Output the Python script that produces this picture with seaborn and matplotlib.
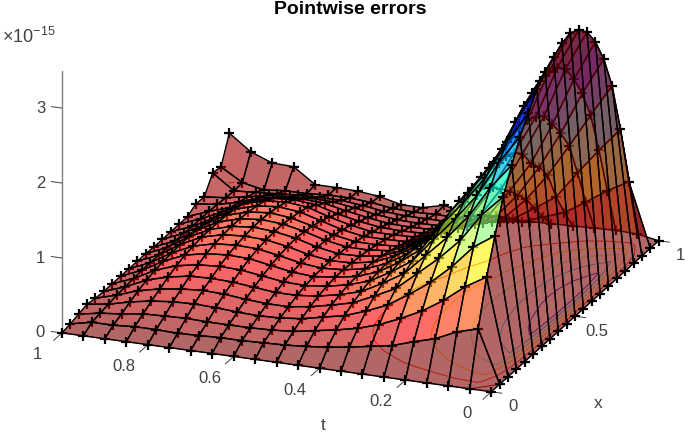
import numpy as np
import seaborn as sns
import matplotlib
matplotlib.use("Agg")
import matplotlib.pyplot as plt
from matplotlib.colors import LinearSegmentedColormap
from mpl_toolkits.mplot3d import proj3d

t_grid = [i / 20 for i in range(21)]
x_grid = [i / 20 for i in range(21)]

# pointwise error (units of 1e-15), one list per t value, x = 0 ... 1
z_t000 = [0] * 21
z_t005 = [0, .70, 1.29, 1.74, 2.16, 2.48, 2.76, 2.97, 3.19, 3.32, 3.42, 3.50, 3.54, 3.48, 3.35, 3.12, 2.79, 2.33, 1.65, .85, .05]
z_t010 = [0, .62, 1.12, 1.55, 1.88, 2.14, 2.37, 2.55, 2.72, 2.83, 2.90, 2.96, 2.98, 2.93, 2.82, 2.58, 2.29, 1.90, 1.33, .69, .06]
z_t015 = [0, .49, .90, 1.25, 1.50, 1.72, 1.90, 2.03, 2.14, 2.22, 2.27, 2.30, 2.30, 2.24, 2.15, 1.94, 1.72, 1.45, .99, .50, .05]
z_t020 = [0, .41, .72, 1.00, 1.22, 1.40, 1.55, 1.67, 1.75, 1.80, 1.82, 1.82, 1.78, 1.72, 1.61, 1.38, 1.23, 1.02, .63, .32, .04]
z_t025 = [0, .32, .58, .80, .98, 1.12, 1.24, 1.34, 1.41, 1.44, 1.45, 1.42, 1.35, 1.22, 1.10, .97, .82, .66, .44, .22, .03]
z_t030 = [0, .27, .46, .62, .74, .84, .91, .96, 1.00, 1.01, 1.00, .96, .90, .80, .70, .60, .50, .38, .26, .12, .02]
z_t035 = [0, .22, .37, .50, .60, .67, .72, .75, .76, .76, .74, .70, .64, .57, .50, .43, .35, .26, .18, .08, .02]
z_t040 = [0, .18, .31, .40, .47, .52, .56, .58, .59, .59, .57, .54, .50, .45, .39, .33, .27, .20, .14, .07, .02]
z_t045 = [0, .15, .26, .34, .40, .44, .47, .48, .48, .47, .45, .42, .38, .34, .30, .25, .20, .15, .10, .05, .01]
z_t050 = [0, .13, .21, .28, .34, .38, .41, .43, .43, .42, .41, .39, .36, .33, .29, .24, .19, .14, .10, .06, .08]
z_t055 = [0, .12, .19, .25, .30, .35, .38, .40, .41, .41, .40, .39, .36, .33, .29, .25, .20, .15, .10, .05, .01]
z_t060 = [0, .11, .18, .24, .30, .35, .39, .42, .44, .45, .45, .44, .41, .38, .34, .29, .24, .18, .12, .06, .01]
z_t065 = [0, .11, .18, .25, .32, .38, .43, .47, .50, .52, .53, .52, .49, .46, .41, .35, .29, .23, .16, .10, .08]
z_t070 = [0, .10, .18, .27, .35, .41, .47, .52, .55, .57, .58, .58, .56, .54, .50, .43, .35, .27, .19, .12, .11]
z_t075 = [0, .09, .19, .28, .36, .42, .48, .53, .56, .58, .60, .60, .59, .57, .53, .46, .37, .28, .19, .12, .12]
z_t080 = [0, .10, .18, .27, .34, .41, .46, .51, .54, .56, .57, .57, .56, .54, .51, .44, .35, .26, .18, .10, .12]
z_t085 = [0, .10, .17, .24, .30, .36, .41, .45, .47, .49, .49, .49, .48, .46, .43, .37, .31, .24, .16, .10, .32]
z_t090 = [0, .08, .13, .19, .24, .28, .31, .33, .34, .35, .35, .34, .32, .30, .28, .24, .21, .18, .14, .07, .33]
z_t095 = [0, .08, .10, .12, .14, .15, .16, .17, .17, .17, .17, .16, .16, .15, .15, .15, .14, .13, .12, .13, .44]
z_t100 = [0, .02, .05, .08, .06, .05, .05, .05, .05, .05, .05, .04, .04, .04, .04, .04, .11, .10, .32, .30, .65]

t_ticks = [0, 0.2, 0.4, 0.6, 0.8, 1]
t_labels = ['0', '0.2', '0.4', '0.6', '0.8', '1']
x_ticks = [0, 0.5, 1]
x_labels = ['0', '0.5', '1']
z_ticks = [0, 1, 2, 3]

sns.set_style("white")
plt.rcParams['font.family'] = ['Liberation Sans', 'DejaVu Sans']
plt.rcParams['mathtext.default'] = 'regular'
GRAY = '#404040'

# reversed MATLAB jet, it reaches pure red sooner than matplotlib's own
jet_rev = LinearSegmentedColormap.from_list('jet_rev', [
    (0, (.5, 0, 0)), (.125, (1, 0, 0)), (.375, (1, 1, 0)),
    (.625, (0, 1, 1)), (.875, (0, 0, 1)), (1, (0, 0, .5))])

Z = np.array([z_t000, z_t005, z_t010, z_t015, z_t020, z_t025, z_t030, z_t035, z_t040, z_t045,
              z_t050, z_t055, z_t060, z_t065, z_t070, z_t075, z_t080, z_t085, z_t090, z_t095, z_t100])
X, T = np.meshgrid(x_grid, t_grid)

fig = plt.figure(figsize=(6.85, 4.34), dpi=100)
ax = fig.add_axes([27 / 685, 114 / 434, 658 / 685, 320 / 434], projection='3d', computed_zorder=False, proj_type='ortho')
ax.view_init(elev=20.6, azim=-68.7)
ax.set_box_aspect((1, 1, 0.608), zoom=2.152)
ax.set_axis_off()
ax.set_xticks([])
ax.set_yticks([])
ax.set_zticks([])
ax.set_xlim(1, 0)
ax.set_ylim(0, 1)
ax.set_zlim(0, 3.5)

# flat colouring: every face takes the colour of its first corner
norm = plt.Normalize(0, Z.max())
colors = jet_rev(norm(Z))
colors[..., 3] = 0.6

base = ax.contour(T, X, Z, levels=6, zdir='z', offset=0, cmap=jet_rev, linewidths=0.6, zorder=1)
base.set_clip_on(False)

# draw far strips first, markers of a row go under the strip in front of it,
# so whatever lies behind a face gets tinted through it
nr = len(t_grid)
for i in range(nr - 1, -1, -1):
    order = 10 + 2 * (nr - 1 - i)
    row = ax.scatter(T[i], X[i], Z[i], marker='+', s=60, c='black', linewidths=1.6,
                     depthshade=False, zorder=order)
    row.set_clip_on(False)
    if i > 0:
        strip = ax.plot_surface(T[i - 1:i + 1], X[i - 1:i + 1], Z[i - 1:i + 1], facecolors=colors[i - 1:i + 1],
                                rstride=1, cstride=1, shade=False, edgecolor='black', linewidth=1.0,
                                zorder=order + 1)
        strip.set_clip_on(False)


def axis_label(t, x, z, text):
    """Put a tick label next to a 3D point, as plain 2D text."""
    px, py, _ = proj3d.proj_transform(t, x, z, ax.get_proj())
    ax.text2D(px, py, text, transform=ax.transData, fontsize=12, color=GRAY, ha='center', va='center', clip_on=False)


# axes decorations
fig.canvas.draw()
ax.plot([1, 1], [0, 0], [0, 3.5], color='#808080', lw=1, clip_on=False, zorder=0)
for v, lab in zip(t_ticks, t_labels):
    ax.plot([v, v], [0, -0.05], [0, 0], color=GRAY, lw=0.7, clip_on=False, zorder=0)
    axis_label(v, -0.145, 0, lab)
for v, lab in zip(x_ticks, x_labels):
    ax.plot([0, -0.025], [v, v], [0, 0], color=GRAY, lw=0.7, clip_on=False, zorder=0)
    axis_label(-0.05, v, -0.16, lab)
for v in z_ticks:
    ax.plot([1, 1.025], [0, 0], [v, v], color=GRAY, lw=0.7, clip_on=False, zorder=0)
    axis_label(1.05, 0, v - 0.04, str(v))

fig.text(323 / 685, 1 - 426 / 434, 't', fontsize=12.5, color=GRAY, ha='center', va='center')
fig.text(598 / 685, 1 - 403 / 434, 'x', fontsize=12.5, color=GRAY, ha='center', va='center')
fig.text(350 / 685, 1 - 9.5 / 434, 'Pointwise errors', ha='center', va='center', fontsize=14, fontweight='bold', color='black')
fig.text(2 / 685, 1 - 37 / 434, r'$\times$10$^{-15}$', fontsize=13, color=GRAY, va='center')

fig.savefig('out.png', dpi=100)
